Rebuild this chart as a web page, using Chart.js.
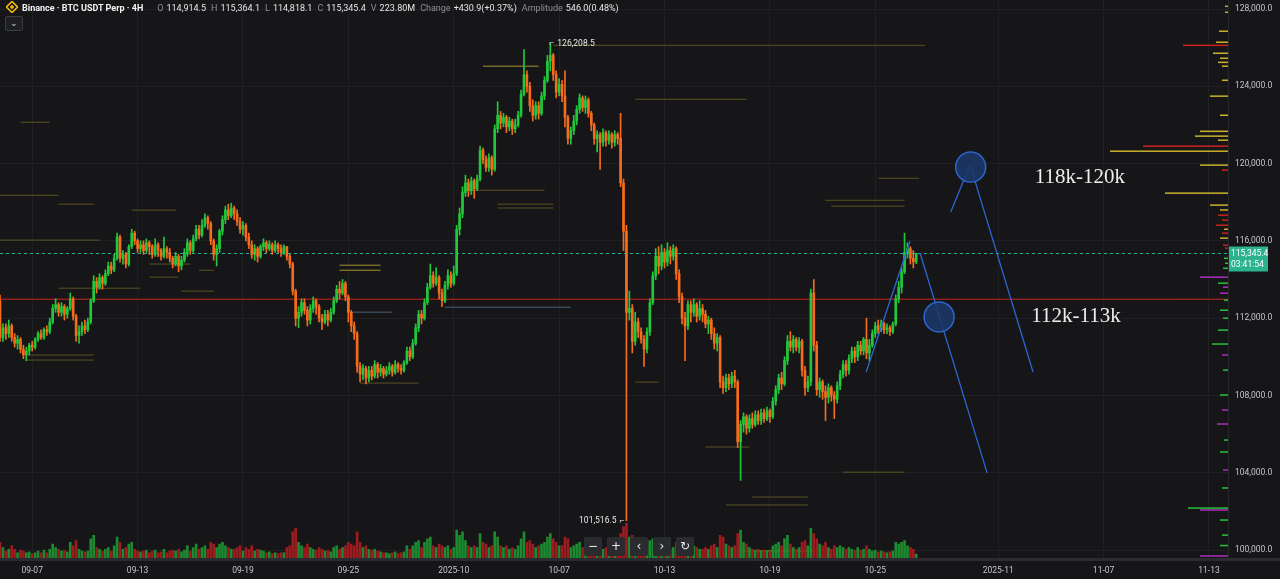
<!DOCTYPE html>
<html>
<head>
<meta charset="utf-8">
<script src="https://cdn.jsdelivr.net/npm/chart.js@4.4.1/dist/chart.umd.min.js"></script>
<style>
  html, body { margin: 0; padding: 0; background: #161618; overflow: hidden; }
  #wrap { position: relative; width: 1280px; height: 579px; }
  canvas { display: block; }
  #hdr { position: absolute; left: 6px; top: 1px; height: 13px; line-height: 13px;
         font: 9px Roboto, "Noto Sans", sans-serif; color: #e6e6e6; white-space: nowrap; }
  #hdr b { font-weight: 700; color: #f2f2f2; margin-left: 4px; }
  #hdr .k { color: #8a8e95; margin-left: 5px; }
  #hdr .v { margin-left: 3px; }
  #logo { display: inline-block; vertical-align: -2px; }
  #menu { position: absolute; left: 5px; top: 16px; width: 16px; height: 13px; border: 1px solid #3a3d42;
          border-radius: 2px; background: #1d1f22; color: #d0d0d0; font: 9px sans-serif; text-align: center; line-height: 12px; }
  #nav { position: absolute; left: 584px; top: 537px; }
  #nav div { float: left; width: 18px; height: 19px; margin-right: 5px; background: #2a2b2f; border-radius: 2px;
             color: #e8e8e8; font: 12px "DejaVu Sans", sans-serif; text-align: center; line-height: 19px; }
</style>
</head>
<body>
<div id="wrap">
  <canvas id="chart" width="1280" height="579"></canvas>
  <div id="hdr"><svg id="logo" width="12" height="12" viewBox="0 0 12 12"><path d="M6 0.5 L11.5 6 L6 11.5 L0.5 6 Z" fill="none" stroke="#f0b90b" stroke-width="1.6"/><rect x="4.4" y="4.4" width="3.2" height="3.2" transform="rotate(45 6 6)" fill="#f0b90b"/></svg><b>Binance · BTC USDT Perp · 4H</b><span class="k" style="margin-left:14px">O</span><span class="v">114,914.5</span><span class="k">H</span><span class="v">115,364.1</span><span class="k">L</span><span class="v">114,818.1</span><span class="k">C</span><span class="v">115,345.4</span><span class="k">V</span><span class="v">223.80M</span><span class="k">Change</span><span class="v">+430.9(+0.37%)</span><span class="k">Amplitude</span><span class="v">546.0(0.48%)</span></div>
  <div id="menu">&#8964;</div>
  <div id="nav"><div>&#8722;</div><div>+</div><div>&#8249;</div><div>&#8250;</div><div>&#8635;</div></div>
</div>
<script>
// ---- DATA: BTCUSDT perp, 4H candles, first candle opens 2025-09-05 04:00 ----
const firstOpen = 112900;

const closes = [
  111000, 111500, 111200, 111600, 111000, 110700, 110900, 110400, 110100, 110300,
  110600, 110500, 110900, 111200, 111000, 111400, 111300, 111800, 112500, 112700,
  112300, 112600, 112200, 112500, 113000, 112100, 111100, 111300, 111600, 111400,
  111800, 112900, 113900, 113600, 114100, 113800, 114300, 114700, 114500, 115100,
  116200, 115100, 115300, 114800, 115700, 116400, 116000, 115600, 115800, 115500,
  115900, 115700, 115300, 115800, 115500, 115200, 115600, 115400, 115100, 114800,
  115200, 114700, 115000, 115400, 115900, 115500, 116100, 116600, 116300, 116800,
  117200, 116900, 116000, 115300, 115600, 116500, 117100, 117600, 117300, 117700,
  117400, 117000, 116600, 116800, 116200, 115800, 115300, 115600, 115200, 115700,
  115900, 115600, 115800, 115500, 115800, 115600, 115400, 115700, 115200, 114800,
  113400, 112000, 112300, 112800, 112400, 111900, 112500, 112900, 112600, 112000,
  111800, 112200, 111900, 112300, 112900, 113500, 113300, 113800, 113100, 112300,
  111600, 111200, 109500, 109100, 109400, 108900, 109300, 109000, 109600, 109200,
  109400, 109100, 109300, 109500, 109200, 109600, 109400, 109300, 109700, 110300,
  110000, 110700, 111500, 112200, 112000, 112800, 113600, 114200, 113800, 114100,
  113300, 112900, 113700, 114200, 113800, 114300, 116600, 117400, 118500, 119000,
  118600, 119100, 118700, 119200, 120700, 120200, 119800, 120300, 119700, 121800,
  122500, 122100, 122400, 121900, 122200, 121800, 122000, 122500, 123600, 124600,
  124000, 123000, 122500, 123000, 122600, 123500, 124300, 125300, 125600, 124600,
  123700, 124100, 123500, 122400, 121300, 121700, 122200, 122800, 123400, 122900,
  123300, 122600, 122000, 121300, 121500, 121100, 121600, 121200, 121500, 121100,
  121500, 121300, 119000, 116500, 112300, 112500, 110800, 111800, 111300, 110900,
  110400, 111300, 112800, 114200, 115200, 114700, 115400, 114900, 115500, 115200,
  115600, 114300, 113100, 112000, 111600, 112700, 112300, 112700, 112100, 112500,
  112200, 111700, 111900, 111200, 110700, 111000, 108700, 108400, 108900, 108600,
  109000, 108700, 105600, 106500, 106900, 106300, 106800, 106500, 107000, 106700,
  107100, 106800, 107200, 106900, 107700, 108300, 108900, 108600, 109800, 110800,
  110500, 110900, 110500, 110800, 109300, 108400, 108700, 113300, 110600, 108300,
  108700, 108200, 107900, 108400, 108000, 107800, 108500, 109100, 109600, 109300,
  109900, 110300, 110000, 110600, 110300, 110900, 110200, 110600, 111200, 111600,
  111400, 111700, 111400, 111500, 111300, 111700, 113000, 113600, 114400, 115400,
  115600, 115100, 114914.5, 115345.4
];

const highs = [
  113200, 111700, 111700, 111900, 111700, 111200, 111100, 111000, 110600, 110500,
  110700, 110800, 111000, 111300, 111400, 111500, 111600, 112000, 112700, 113000,
  112800, 112800, 112700, 112600, 113300, 113100, 112200, 111600, 111800, 111900,
  112000, 113000, 114200, 114100, 114300, 114200, 114500, 114900, 114900, 115300,
  116400, 116300, 115500, 115400, 115800, 116600, 116500, 116100, 116000, 116000,
  116100, 116000, 115800, 116100, 115900, 115600, 116200, 115700, 115600, 115200,
  115400, 115300, 115200, 115600, 116100, 116000, 116300, 116800, 116800, 117100,
  117400, 117300, 117000, 116100, 115800, 116600, 117300, 117800, 117900, 117950,
  117800, 117600, 117200, 117000, 116900, 116400, 116000, 115800, 115700, 115800,
  116100, 116000, 116000, 115900, 116000, 115900, 115800, 115800, 115700, 115300,
  114900, 113500, 112600, 113000, 113000, 112600, 112700, 113100, 113000, 112700,
  112200, 112400, 112400, 112500, 113100, 113700, 113900, 114000, 113900, 113200,
  112400, 111800, 111300, 109700, 109600, 109500, 109500, 109500, 109800, 109700,
  109600, 109500, 109500, 109700, 109600, 109800, 109700, 109600, 109800, 110500,
  110500, 110900, 111700, 112400, 112400, 113000, 113800, 114800, 114400, 114600,
  114200, 113500, 113900, 114500, 114400, 114700, 116800, 117700, 118800, 119400,
  119200, 119300, 119200, 119400, 120900, 120800, 120400, 120500, 120400, 122000,
  123200, 122700, 122600, 122500, 122400, 122300, 122300, 122700, 123800, 125900,
  124800, 124200, 123300, 123200, 123200, 123700, 124500, 125600, 126208.5, 125700,
  124800, 124400, 124300, 124800, 122500, 121900, 122500, 123000, 123600, 123500,
  123500, 123400, 122700, 122100, 121700, 121600, 121800, 121700, 121700, 121600,
  121700, 121600, 122600, 119200, 116800, 113400, 112700, 112300, 112000, 111500,
  111100, 111500, 113000, 114400, 115600, 115700, 115800, 115600, 115900, 115700,
  115800, 115700, 114500, 113300, 112300, 112900, 112900, 113000, 112800, 112900,
  112700, 112400, 112100, 112000, 111500, 111200, 111100, 109000, 109100, 109100,
  109200, 109300, 108800, 106700, 107100, 107000, 107000, 107100, 107200, 107200,
  107300, 107300, 107400, 107300, 107900, 108500, 109100, 109200, 110000, 111100,
  111300, 111100, 111000, 111000, 110900, 109500, 109000, 113500, 114000, 110800,
  108900, 108800, 108500, 108600, 108500, 108200, 108700, 109300, 109800, 109800,
  110100, 110500, 110500, 110800, 110800, 111000, 112000, 110900, 111400, 111800,
  111900, 111900, 111800, 111700, 111600, 111800, 113200, 113900, 114600, 116400,
  115900, 115700, 115500, 115364.1
];

const lows = [
  110800, 110800, 110900, 111000, 110800, 110500, 110400, 110200, 109900, 109800,
  110100, 110300, 110400, 110800, 110900, 110900, 111100, 111200, 111700, 112300,
  112100, 112100, 111900, 112000, 112400, 111900, 110800, 110700, 111100, 111200,
  111300, 111700, 112800, 113300, 113500, 113500, 113700, 114200, 114300, 114400,
  115000, 114900, 114800, 114600, 114700, 115600, 115800, 115400, 115400, 115300,
  115400, 115300, 115100, 115200, 115200, 115000, 115100, 115100, 114900, 114600,
  114700, 114400, 114500, 114900, 115200, 115300, 115400, 116000, 116100, 116200,
  116700, 116600, 115800, 115000, 114700, 115400, 116300, 116900, 117100, 117200,
  117100, 116800, 116400, 116300, 116000, 115600, 115100, 115000, 114900, 115100,
  115500, 115400, 115500, 115300, 115400, 115400, 115200, 115300, 115000, 114600,
  113200, 111600, 111500, 112100, 112200, 111600, 111700, 112300, 112200, 111800,
  111400, 111700, 111600, 111800, 112200, 112800, 113000, 113200, 112900, 111800,
  111300, 110900, 109200, 108700, 108800, 108600, 108700, 108800, 108900, 108900,
  109000, 108900, 109000, 109100, 109000, 109100, 109200, 109100, 109200, 109600,
  109800, 109900, 110600, 111300, 111700, 111900, 112700, 113500, 113600, 113700,
  113000, 112600, 112800, 113500, 113600, 113700, 114200, 116300, 117200, 118300,
  118300, 118400, 118200, 118600, 119100, 120000, 119600, 119600, 119400, 119600,
  121600, 121800, 121900, 121600, 121700, 121500, 121600, 121900, 122400, 123500,
  123700, 122700, 122200, 122300, 122300, 122500, 123300, 124200, 124800, 124300,
  123400, 123500, 123200, 121900, 121000, 121000, 121500, 122000, 122600, 122700,
  122600, 122400, 121700, 121000, 120600, 119700, 120900, 120900, 121000, 120800,
  120900, 121000, 118800, 115500, 101516.5, 111900, 110200, 110600, 111000, 110700,
  109500, 110200, 111100, 112700, 114000, 114300, 114500, 114600, 114700, 114800,
  115000, 114000, 112800, 111700, 109800, 111400, 111800, 112100, 111800, 111900,
  111800, 111500, 111200, 110900, 110400, 110300, 108400, 108100, 108200, 108300,
  108400, 108400, 105300, 103600, 106100, 106000, 106100, 106300, 106400, 106500,
  106500, 106600, 106700, 106600, 106800, 107500, 108100, 108300, 108500, 109600,
  110300, 110200, 110300, 110200, 109000, 108000, 108200, 108500, 110300, 108000,
  107900, 107800, 106700, 107600, 107700, 106800, 107600, 108300, 108900, 109000,
  109100, 109700, 109700, 109800, 110100, 110100, 109900, 109800, 110500, 111000,
  111200, 111300, 111200, 111200, 111100, 111200, 111600, 112800, 113300, 114300,
  115100, 114800, 114600, 114818.1
];

// volume per candle, millions of USDT
const volumes = [
  900, 600, 400, 500, 700, 500, 300, 450, 400, 300,
  350, 250, 300, 400, 300, 450, 300, 500, 800, 600,
  500, 400, 450, 350, 900, 700, 1000, 500, 400, 350,
  400, 1100, 1300, 600, 500, 400, 500, 600, 400, 700,
  1200, 900, 500, 600, 800, 900, 500, 400, 350, 400,
  450, 300, 400, 450, 300, 350, 500, 300, 400, 450,
  400, 500, 350, 450, 700, 400, 600, 800, 500, 600,
  700, 500, 900, 800, 600, 800, 900, 700, 600, 500,
  500, 600, 700, 400, 600, 500, 700, 400, 500, 450,
  400, 300, 350, 250, 300, 250, 300, 300, 600, 700,
  1500, 1700, 900, 700, 600, 800, 600, 500, 450, 600,
  500, 400, 450, 350, 600, 700, 500, 600, 700, 900,
  800, 700, 1500, 900, 600, 700, 500, 450, 500, 400,
  350, 300, 300, 250, 300, 350, 250, 300, 350, 700,
  500, 700, 900, 1000, 600, 900, 1100, 1200, 700, 600,
  800, 700, 600, 700, 500, 600, 1600, 1300, 1500, 1000,
  700, 600, 700, 600, 1400, 900, 800, 600, 700, 1500,
  1200, 700, 600, 700, 500, 600, 500, 700, 1100, 1500,
  900, 1000, 800, 600, 700, 800, 900, 1200, 1400, 1100,
  900, 700, 700, 1200, 1100, 600, 700, 800, 900, 600,
  500, 700, 800, 900, 600, 900, 500, 600, 450, 500,
  450, 500, 1400, 1800, 2000, 1200, 1300, 900, 800, 700,
  900, 800, 1000, 1100, 1000, 800, 700, 600, 700, 500,
  600, 900, 1000, 1000, 900, 800, 600, 700, 600, 500,
  500, 600, 500, 700, 800, 600, 1300, 1200, 800, 700,
  600, 700, 1400, 1600, 900, 800, 600, 500, 450, 500,
  400, 450, 400, 350, 700, 800, 900, 700, 1100, 1300,
  800, 600, 500, 600, 900, 1000, 700, 1700, 1400, 1100,
  800, 700, 900, 600, 500, 700, 600, 700, 600, 500,
  600, 500, 450, 600, 450, 500, 700, 500, 400, 450,
  350, 400, 350, 300, 350, 400, 900, 800, 900, 1000,
  700, 600, 500, 224
];

// x axis: candle index of each labelled midnight
const tickIdx = [11, 47, 83, 119, 155, 191, 227, 263, 299, 341, 377, 413];
const tickLabels = ['09-07', '09-13', '09-19', '09-25', '2025-10', '10-07', '10-13', '10-19', '10-25', '2025-11', '11-07', '11-13'];
const priceTicks = [100000, 104000, 108000, 112000, 116000, 120000, 124000, 128000];

const lastPrice = 115345.4;
const countdown = '03:41:54';
const keyLevel = 112980;

// order book heatmap streaks: price, from/to candle index, tone
const hmPrice = [126120, 125040, 123330, 122140, 119240, 118620, 118100, 117800, 117900, 117700,
                 118360, 117900, 116040, 117590, 114800, 114480, 113550, 113400, 114120, 114740,
                 114480, 110090, 109830, 108640, 108690, 104030, 102740, 102330, 105330, 99950,
                 112570, 112310];
const hmFrom = [189, 165, 217, 7, 300, 159, 282, 284, 170, 170,
                0, 20, 0, 45, 51, 68, 20, 62, 51, 116,
                116, 9, 9, 123, 217, 288, 257, 248, 241, 253,
                152, 120];
const hmTo = [316, 184, 255, 17, 314, 186, 309, 309, 189, 189,
              20, 32, 34, 60, 65, 73, 48, 73, 61, 130,
              130, 32, 32, 143, 225, 309, 276, 276, 256, 278,
              195, 134];
const hmTone = ['dim', 'bright', 'dim', 'dim', 'dim', 'dim', 'dim', 'dim', 'dim', 'dim',
                'dim', 'dim', 'dim', 'dim', 'dim', 'dim', 'dim', 'dim', 'dim', 'bright',
                'bright', 'dim', 'dim', 'dim', 'dim', 'dim', 'dim', 'dim', 'dim', 'bright',
                'blue', 'blue'];

// resting depth at the right edge: price, size (BTC), side
const depthPrice = [128140, 127830, 126850, 126280, 126120, 125710, 125450, 125240, 125040, 124310,
                    123490, 122500, 121670, 121420, 121210, 120900, 120640, 119920, 119660, 118470,
                    117850, 117600, 117330, 117070, 116810, 116600, 116400, 116140, 115780, 115620,
                    115100, 114840, 114580, 114120, 113810, 113600, 113290, 112930, 112410, 112000,
                    111380, 110660, 110090, 109310, 108020, 107240, 106520, 105690, 105070, 104140,
                    103210, 102170, 102070, 101550, 100770, 100230, 99690];
const depthSize = [3, 3, 9, 12, 45, 15, 8, 10, 6, 6,
                   18, 8, 28, 33, 10, 85, 118, 28, 6, 63,
                   18, 8, 10, 6, 12, 4, 6, 8, 5, 3,
                   4, 3, 5, 28, 10, 5, 8, 4, 8, 5,
                   10, 16, 6, 5, 8, 6, 11, 4, 8, 5,
                   6, 40, 28, 8, 6, 8, 28];
const depthSide = ['ask', 'ask', 'ask', 'ask', 'askRed', 'ask', 'ask', 'ask', 'ask', 'ask',
                   'ask', 'ask', 'ask', 'ask', 'ask', 'askRed', 'ask', 'ask', 'askRed', 'ask',
                   'ask', 'ask', 'askRed', 'askRed', 'askRed', 'ask', 'askRed', 'ask', 'askRed', 'askRed',
                   'bid', 'bid', 'bid', 'bidM', 'bid', 'bidM', 'bidM', 'bid', 'bid', 'bid',
                   'bid', 'bid', 'bidM', 'bid', 'bid', 'bidM', 'bidM', 'bid', 'bid', 'bidM',
                   'bid', 'bid', 'bidM', 'bid', 'bid', 'bid', 'bidM'];

// hand drawn projection (candle index, price)
const drawSegs = [
  [295.9, 109210, 310.9, 115990],
  [314.3, 115370, 337.2, 103990],
  [324.8, 117490, 331.1, 119830],
  [331.6, 119830, 352.9, 109210]
];
const drawCircles = [[331.6, 119820], [320.8, 112060]];
const notes = [
  { text: '118k-120k', x: 368.9, y: 119300 },
  { text: '112k-113k', x: 367.6, y: 112110 }
];

// ---- derived ----
const opens = closes.map((c, i) => i === 0 ? firstOpen : closes[i - 1]);
const UP = '#22c83b', DOWN = '#f66b1c';
const candleColors = closes.map((c, i) => c >= opens[i] ? UP : DOWN);
const volColors = closes.map((c, i) => c >= opens[i] ? '#1c8a2e' : '#a01b1f');

function fmt(v) {
  return v.toLocaleString('en-US', { minimumFractionDigits: 1, maximumFractionDigits: 1 });
}

function streaks(tone) {
  const out = [];
  hmPrice.forEach((p, k) => {
    if (hmTone[k] !== tone) return;
    out.push({ x: hmFrom[k], y: p }, { x: hmTo[k], y: p }, { x: hmTo[k], y: null });
  });
  return out;
}

const segPoints = [];
drawSegs.forEach(s => {
  segPoints.push({ x: s[0], y: s[1] }, { x: s[2], y: s[3] }, { x: s[2], y: null });
});

const xMax = 419.5;

// no label overflow padding: plot runs edge to edge like the exchange chart
function noPad(s) {
  s.paddingLeft = 0; s.paddingRight = 0; s.paddingTop = 0; s.paddingBottom = 0;
}

// extra drawing: hi/lo labels, notes, depth, price tag
const overlay = {
  id: 'overlay',
  afterDatasetsDraw(chart) {
    const { ctx, chartArea, scales } = chart;
    const xs = scales.x, ys = scales.y;
    ctx.save();
    // depth bars at right edge
    const sideColor = { ask: '#c9b12a', askRed: '#c8221f', bid: '#27c23c', bidM: '#a92fbd' };
    depthPrice.forEach((p, k) => {
      const y = ys.getPixelForValue(p);
      ctx.fillStyle = sideColor[depthSide[k]];
      ctx.fillRect(chartArea.right - depthSize[k], y - 0.75, depthSize[k], 1.5);
    });

    // highest high / lowest low labels
    let hi = 0, lo = 0;
    highs.forEach((h, i) => { if (h > highs[hi]) hi = i; });
    lows.forEach((l, i) => { if (l < lows[lo]) lo = i; });
    ctx.font = '8.5px Roboto, sans-serif';
    ctx.fillStyle = '#e8e8e8';
    ctx.textBaseline = 'middle';
    let x = xs.getPixelForValue(hi), y = ys.getPixelForValue(highs[hi]);
    ctx.textAlign = 'left';
    ctx.fillText('\u2310', x - 1, y - 1);
    ctx.fillText(fmt(highs[hi]), x + 7, y);
    x = xs.getPixelForValue(lo); y = ys.getPixelForValue(lows[lo]);
    ctx.textAlign = 'right';
    ctx.fillText('\u2310', x - 2, y);
    ctx.fillText(fmt(lows[lo]), x - 10, y);

    // text notes
    ctx.font = '21px "Liberation Serif", "DejaVu Serif", serif';
    ctx.fillStyle = '#ededed';
    ctx.textAlign = 'center';
    notes.forEach(n => ctx.fillText(n.text, xs.getPixelForValue(n.x), ys.getPixelForValue(n.y)));
    ctx.restore();
  },
  afterDraw(chart) {
    const { ctx, chartArea, scales } = chart;
    ctx.save();
    ctx.fillStyle = '#2a2c31';
    ctx.fillRect(0, chartArea.bottom, chart.width, 3);
    const y = scales.y.getPixelForValue(lastPrice);
    ctx.fillStyle = '#2ab38c';
    ctx.fillRect(chartArea.right + 1, y - 7, 39, 25);
    ctx.fillStyle = '#ffffff';
    ctx.font = '8.5px Roboto, sans-serif';
    ctx.textAlign = 'left';
    ctx.textBaseline = 'middle';
    ctx.fillText(fmt(lastPrice), chartArea.right + 3, y);
    ctx.fillText(countdown, chartArea.right + 3, y + 11);
    ctx.restore();
  }
};

const gridColor = '#1f2023';
const labelColor = '#c3c7cd';

new Chart(document.getElementById('chart'), {
  type: 'bar',
  data: {
    datasets: [
      { type: 'line', data: streaks('dim'), borderColor: 'rgba(150,132,40,0.55)', borderWidth: 1, pointRadius: 0, order: 20 },
      { type: 'line', data: streaks('bright'), borderColor: 'rgba(200,178,50,0.8)', borderWidth: 1, pointRadius: 0, order: 19 },
      { type: 'line', data: streaks('blue'), borderColor: 'rgba(70,92,118,0.7)', borderWidth: 1.5, pointRadius: 0, order: 18 },
      { data: volumes.map((v, i) => ({ x: i, y: v })), yAxisID: 'yVol', backgroundColor: volColors,
        barThickness: 2, grouped: false, order: 15 },
      { type: 'line', data: [{ x: 0, y: keyLevel }, { x: xMax, y: keyLevel }], borderColor: '#c8251e', borderWidth: 1, pointRadius: 0, order: 12 },
      { type: 'line', data: [{ x: 0, y: lastPrice }, { x: xMax, y: lastPrice }], borderColor: '#1fb39a', borderWidth: 1,
        borderDash: [3, 3], pointRadius: 0, order: 11 },
      { data: lows.map((l, i) => ({ x: i, y: [l, highs[i]] })), backgroundColor: candleColors,
        barThickness: 1, grouped: false, order: 8 },
      { data: opens.map((o, i) => ({ x: i, y: [o, closes[i]] })), backgroundColor: candleColors,
        barThickness: 2, minBarLength: 1, grouped: false, order: 7 },
      { type: 'line', data: segPoints, borderColor: '#2c66d0', borderWidth: 1.3, pointRadius: 0, order: 5 },
      { type: 'line', data: drawCircles.map(c => ({ x: c[0], y: c[1] })), showLine: false,
        pointRadius: 15, pointBackgroundColor: 'rgba(28,56,108,0.85)', pointBorderColor: '#2c66d0',
        pointBorderWidth: 1.5, order: 4 }
    ]
  },
  options: {
    responsive: false,
    animation: false,
    devicePixelRatio: 1,
    events: [],
    layout: { padding: 0, autoPadding: false },
    plugins: { legend: { display: false }, tooltip: { enabled: false } },
    scales: {
      x: {
        type: 'linear', min: 0, max: xMax, offset: false,
        afterBuildTicks: s => { s.ticks = tickIdx.map(v => ({ value: v })); },
        afterFit: s => { s.height = 21; noPad(s); },
        grid: { color: gridColor, drawTicks: false, offset: false },
        border: { display: false },
        ticks: { color: labelColor, font: { size: 8.5, family: 'Roboto' }, padding: 8, maxRotation: 0, autoSkip: false,
                 callback: v => tickLabels[tickIdx.indexOf(v)] }
      },
      y: {
        position: 'right', min: 99586, max: 128466,
        afterBuildTicks: s => { s.ticks = priceTicks.map(v => ({ value: v })); },
        afterFit: s => { s.width = 52; noPad(s); },
        grid: { color: gridColor, drawTicks: false },
        border: { display: true, color: '#24262a' },
        ticks: { color: labelColor, font: { size: 8.5, family: 'Roboto' }, padding: 7, callback: v => fmt(v) }
      },
      yVol: { display: false, min: 0, max: 32000, afterFit: noPad }
    }
  },
  plugins: [overlay]
});
</script>
</body>
</html>
